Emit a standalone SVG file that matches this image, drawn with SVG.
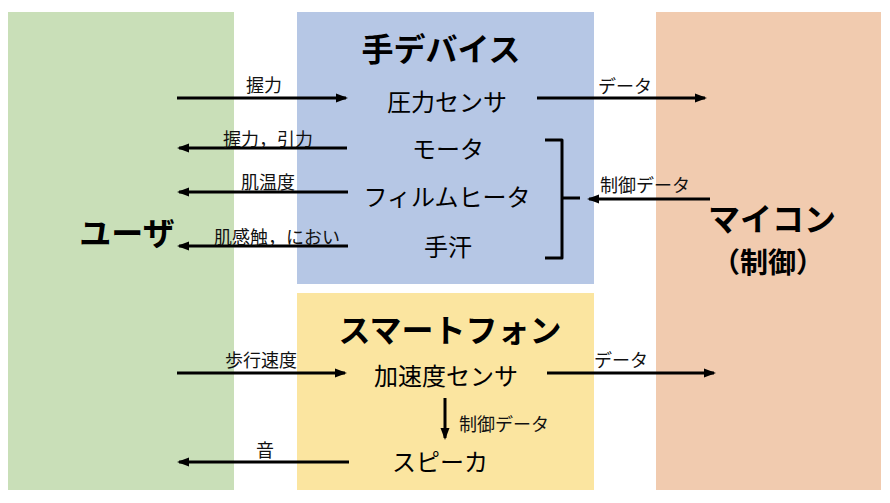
<svg xmlns="http://www.w3.org/2000/svg" width="890" height="503" viewBox="0 0 890 503">
<style>
text{font-family:"Noto Sans CJK JP","Noto Sans CJK SC",sans-serif;fill:#000;text-anchor:middle}
.title{font-size:32px;font-weight:700}
.item{font-size:24px}
.lbl{font-size:18px;fill:#111}
.c{stroke:#000;stroke-width:3;fill:none}
</style>
<defs>
<marker id="ah" markerUnits="userSpaceOnUse" markerWidth="14" markerHeight="12" refX="10" refY="6" orient="auto">
<path d="M0,1.5 L12,6 L0,10.5 z" fill="#000"/>
</marker>
</defs>
<rect width="890" height="503" fill="#fff"/>
<g id="user">
<rect x="8" y="12" width="226" height="478" fill="#c9dfb8"/>
<text class="title" x="127" y="245">ユーザ</text>
</g>
<g id="hand-device">
<rect x="297" y="12" width="297" height="272" fill="#b6c7e5"/>
<text class="title" x="441" y="61">手デバイス</text>
<text class="item" x="447" y="111">圧力センサ</text>
<text class="item" x="448" y="158">モータ</text>
<text class="item" x="447" y="206">フィルムヒータ</text>
<text class="item" x="448" y="256">手汗</text>
</g>
<g id="smartphone">
<rect x="297" y="293" width="297" height="197" fill="#fbe5a0"/>
<text class="title" x="450" y="342">スマートフォン</text>
<text class="item" x="446" y="385">加速度センサ</text>
<text class="item" x="440" y="471">スピーカ</text>
</g>
<g id="mcu">
<rect x="656" y="12" width="225" height="478" fill="#f1cbaf"/>
<text class="title" x="772" y="231">マイコン</text>
<text class="title" x="768" y="273" style="font-size:28px">（制御）</text>
</g>
<g id="connectors">
<line class="c" x1="177" y1="98" x2="346" y2="98" marker-end="url(#ah)"/>
<line class="c" x1="537" y1="98" x2="705" y2="98" marker-end="url(#ah)"/>
<line class="c" x1="347" y1="148" x2="179" y2="148" marker-end="url(#ah)"/>
<line class="c" x1="348" y1="192" x2="179" y2="192" marker-end="url(#ah)"/>
<line class="c" x1="348" y1="246" x2="179" y2="246" marker-end="url(#ah)"/>
<line class="c" x1="710" y1="199" x2="589" y2="199" marker-end="url(#ah)"/>
<line class="c" x1="177" y1="373" x2="345" y2="373" marker-end="url(#ah)"/>
<line class="c" x1="547" y1="373" x2="714" y2="373" marker-end="url(#ah)"/>
<line class="c" x1="445" y1="398" x2="445" y2="438" marker-end="url(#ah)"/>
<line class="c" x1="349" y1="462" x2="179" y2="462" marker-end="url(#ah)"/>
<path class="c" d="M545,140 H562 V198 H580 M562,198 V258 H545" stroke-linejoin="round"/>
<text class="lbl" x="264" y="92">握力</text>
<text class="lbl" x="625" y="93">データ</text>
<text class="lbl" x="268" y="146">握力，引力</text>
<text class="lbl" x="268" y="189">肌温度</text>
<text class="lbl" x="277" y="244">肌感触，におい</text>
<text class="lbl" x="645" y="192">制御データ</text>
<text class="lbl" x="261" y="367">歩行速度</text>
<text class="lbl" x="621" y="367">データ</text>
<text class="lbl" x="504" y="431">制御データ</text>
<text class="lbl" x="265" y="457">音</text>
</g>
</svg>
